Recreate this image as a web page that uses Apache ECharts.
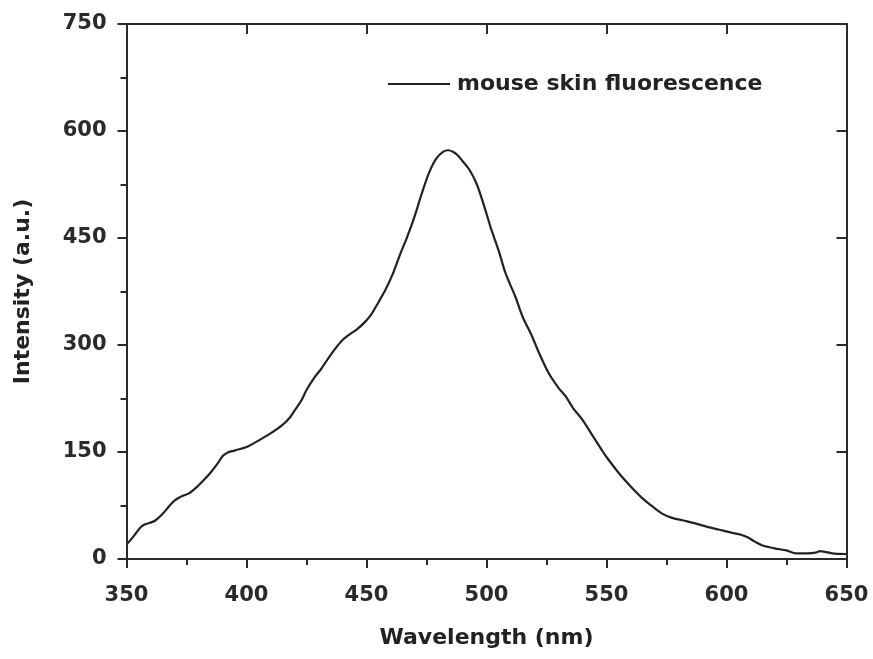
<!DOCTYPE html>
<html>
<head>
<meta charset="utf-8">
<script src="https://cdn.jsdelivr.net/npm/echarts@6/dist/echarts.min.js"></script>
<style>html,body{margin:0;padding:0;background:#fff;}#c{width:873px;height:659px;}</style>
</head>
<body>
<div id="c"></div>
<script>
const wavelengths = [350,353,356,358,360,362,365,368,370,373,376,379,382,385,388,390,392,395,400,405,410,415,418,420,423,425,428,431,434,437,440,443,446,449,452,455,458,461,464,467,470,473,476,479,482,484,486,488,490,493,496,499,502,505,508,512,515,519,522,526,530,533,536,540,544,548,550,555,560,565,569,573,577,582,587,592,597,602,606,609,612,615,620,625,629,634,637,639,641,644,650];
const intensity = [20,32,45,49,51,54,63,75,82,88,92,100,110,121,134,144,149,152,157,166,176,188,198,208,223,237,253,266,281,295,307,315,322,331,343,360,378,400,427,452,480,512,541,561,571,573,571,566,558,545,525,495,462,433,400,368,340,312,288,260,240,228,212,195,174,153,143,121,102,85,74,64,58,54,50,45,41,37,34,30,24,19,15,12,8,8,9,11,10,8,7];
const xTicks = [350,400,450,500,550,600,650];
const yTicks = [0,150,300,450,600,750];
const seriesName = 'mouse skin fluorescence';

const pts = wavelengths.map((w,i)=>[w,intensity[i]]);
const FONT = 'DejaVu Sans';
const axisCol = '#2a2a2a';
const chart = echarts.init(document.getElementById('c'), null, {renderer:'canvas'});
chart.setOption({
  backgroundColor:'#fff',
  animation:false,
  grid:{left:126.5, right:26.5, top:24, bottom:100, containLabel:false, outerBoundsMode:'none'},
  legend:{
    data:[{name:seriesName, icon:'rect'}],
    left:383, top:68, itemWidth:62, itemHeight:2, itemGap:0,
    textStyle:{fontFamily:FONT, fontWeight:'bold', fontSize:22, color:'#222', padding:[0,0,0,2]}
  },
  xAxis:[{
    type:'value', min:xTicks[0], max:xTicks[xTicks.length-1], interval:50,
    name:'Wavelength (nm)', nameLocation:'middle', nameGap:68,
    nameTextStyle:{fontFamily:FONT, fontWeight:'bold', fontSize:22, color:'#222'},
    axisLine:{onZero:false, lineStyle:{color:axisCol, width:2}},
    axisTick:{show:true, inside:false, length:9, lineStyle:{color:axisCol, width:2}},
    minorTick:{show:true, splitNumber:2, length:6, lineStyle:{color:axisCol, width:2}},
    splitLine:{show:false},
    axisLabel:{fontFamily:FONT, fontWeight:'bold', fontSize:21, color:'#2a2a2a', margin:26}
  },{
    type:'value', position:'top', min:xTicks[0], max:xTicks[xTicks.length-1], interval:50,
    axisLine:{onZero:false, lineStyle:{color:axisCol, width:2}},
    axisTick:{show:true, inside:true, length:10, lineStyle:{color:axisCol, width:2}},
    axisLabel:{show:false}, splitLine:{show:false}
  }],
  yAxis:[{
    type:'value', min:yTicks[0], max:yTicks[yTicks.length-1], interval:150,
    name:'Intensity (a.u.)', nameLocation:'middle', nameGap:92,
    nameTextStyle:{fontFamily:FONT, fontWeight:'bold', fontSize:22, color:'#222'},
    axisLine:{show:true, onZero:false, lineStyle:{color:axisCol, width:2}},
    axisTick:{show:true, inside:false, length:9, lineStyle:{color:axisCol, width:2}},
    minorTick:{show:true, splitNumber:2, length:6, lineStyle:{color:axisCol, width:2}},
    splitLine:{show:false},
    axisLabel:{fontFamily:FONT, fontWeight:'bold', fontSize:21, color:'#2a2a2a', margin:20}
  },{
    type:'value', position:'right', min:yTicks[0], max:yTicks[yTicks.length-1], interval:150,
    axisLine:{show:true, onZero:false, lineStyle:{color:axisCol, width:2}},
    axisTick:{show:true, inside:true, length:10, lineStyle:{color:axisCol, width:2}},
    axisLabel:{show:false}, splitLine:{show:false}
  }],
  series:[{
    name:seriesName, type:'line', data:pts, showSymbol:false, symbol:'none',
    smooth:0.3, lineStyle:{color:'#222', width:2.2}, itemStyle:{color:'#222'}
  }]
});
</script>
</body>
</html>
